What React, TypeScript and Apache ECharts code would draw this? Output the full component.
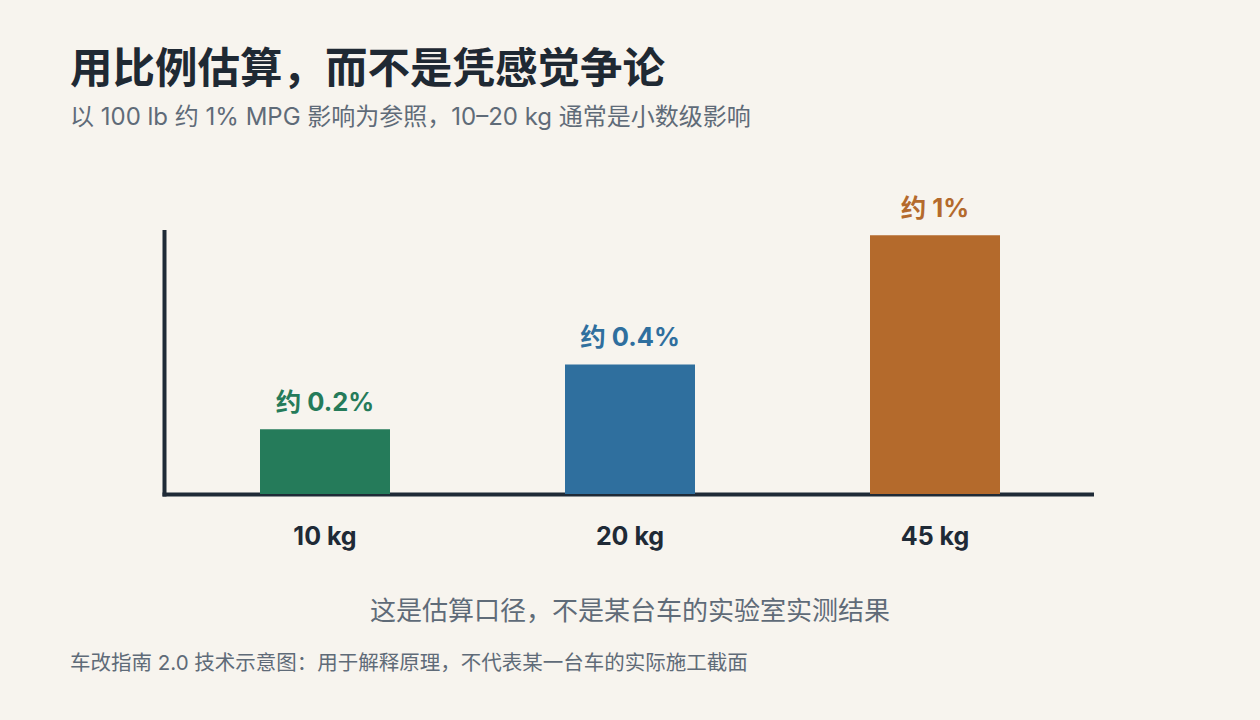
import React, { useEffect, useRef } from "react";
import * as echarts from "echarts";

const categories = ["10 kg", "20 kg", "45 kg"];
const barValues = [0.25, 0.5, 1.0];
const barLabels = ["约 0.2%", "约 0.4%", "约 1%"];
const barColors = ["#257b5a", "#2f6f9e", "#b46a2c"];

const TITLE = "用比例估算，而不是凭感觉争论";
const SUBTITLE = "以 100 lb 约 1% MPG 影响为参照，10–20 kg 通常是小数级影响";
const NOTE = "这是估算口径，不是某台车的实验室实测结果";
const FOOTER = "车改指南 2.0 技术示意图：用于解释原理，不代表某一台车的实际施工截面";

const FONT = "Inter, 'Noto Sans CJK SC', sans-serif";
const AXIS_COLOR = "#1f2a36";
const MUTED = "#5f6b78";

export default function App() {
  const ref = useRef<HTMLDivElement>(null);
  useEffect(() => {
    document.body.style.margin = "0";
    if (!ref.current) return;
    const chart = echarts.init(ref.current, null, { renderer: "svg" });
    chart.setOption({
      animation: false,
      backgroundColor: "#f7f4ee",
      textStyle: { fontFamily: FONT },
      grid: { left: 172.5, right: 172.5, top: 230, bottom: 226, containLabel: false },
      xAxis: {
        type: "category",
        data: categories,
        axisLine: { show: false },
        axisTick: { show: false },
        axisLabel: {
          color: AXIS_COLOR,
          fontSize: 25,
          fontWeight: "bold",
          fontFamily: FONT,
          margin: 29,
        },
      },
      yAxis: {
        type: "value",
        min: 0,
        max: 1.02,
        show: false,
        splitLine: { show: false },
      },
      series: [
        {
          type: "bar",
          z: 3,
          barWidth: 130,
          data: barValues.map((v, i) => ({
            value: v,
            itemStyle: { color: barColors[i] },
            label: {
              show: true,
              position: "top",
              distance: 15,
              formatter: barLabels[i],
              color: barColors[i],
              fontSize: 25.5,
              fontWeight: "bold",
              fontFamily: FONT,
            },
          })),
        },
      ],
      graphic: [
        {
          type: "line",
          z: 1,
          shape: { x1: 164.5, y1: 230, x2: 164.5, y2: 496.5 },
          style: { stroke: AXIS_COLOR, lineWidth: 4 },
        },
        {
          type: "line",
          z: 1,
          shape: { x1: 162.5, y1: 494.5, x2: 1094, y2: 494.5 },
          style: { stroke: AXIS_COLOR, lineWidth: 4 },
        },
        {
          type: "text",
          left: 70,
          top: 46,
          style: { text: TITLE, fill: "#1f2933", fontSize: 42.5, fontWeight: "bold", fontFamily: FONT },
        },
        {
          type: "text",
          left: 70,
          top: 104,
          style: { text: SUBTITLE, fill: MUTED, fontSize: 24, fontFamily: FONT },
        },
        {
          type: "text",
          x: 630,
          y: 610,
          style: { text: NOTE, fill: MUTED, fontSize: 26, fontFamily: FONT, align: "center", verticalAlign: "middle" },
        },
        {
          type: "text",
          left: 70,
          top: 652,
          style: { text: FOOTER, fill: MUTED, fontSize: 20.5, fontFamily: FONT },
        },
      ],
    });
    return () => chart.dispose();
  }, []);
  return <div ref={ref} style={{ width: 1260, height: 720 }} />;
}
